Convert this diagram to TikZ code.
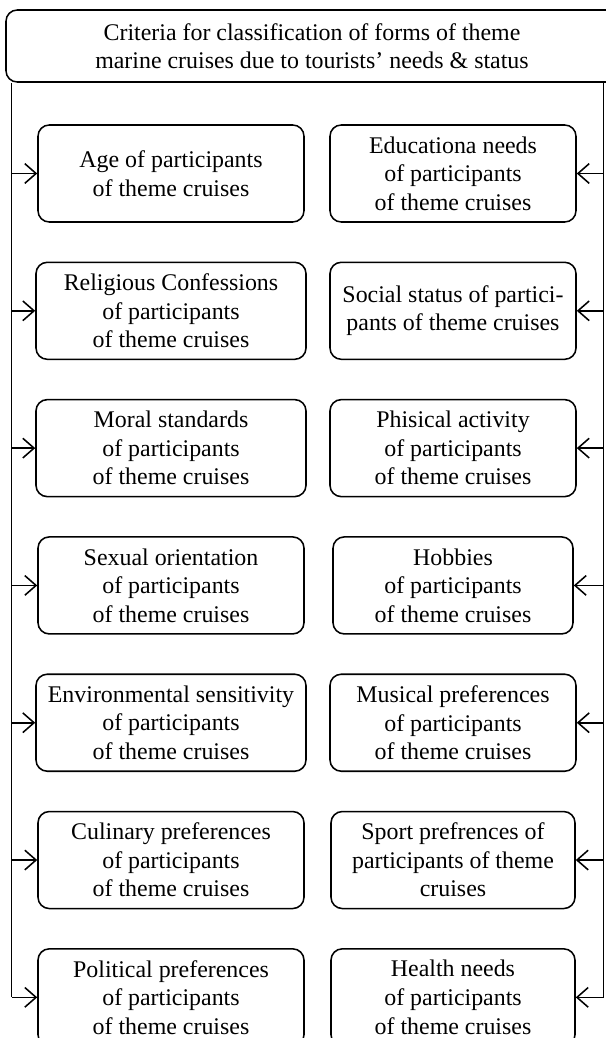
\documentclass[tikz,border=0pt]{standalone}
\usepackage{fontspec}
\setmainfont{Liberation Serif}
\usetikzlibrary{positioning, arrows.meta}

\begin{document}
\begin{tikzpicture}[node distance=0.969cm,
  top/.style={draw, rounded corners=8pt, minimum width=15.3cm, minimum height=1.8cm, align=center, line width=1.1pt},
  crit/.style={draw, rounded corners=8pt, minimum width=6.65cm, minimum height=2.425cm, inner sep=2pt, align=center, line width=1.1pt},
  rcrit/.style={crit, minimum width=6.15cm},
  arr/.style={-{Straight Barb[length=8pt,width=14pt]}, line width=1.1pt},
  bus/.style={line width=1.1pt},
  font=\fontsize{17}{20.3}\selectfont]
  \useasboundingbox (0,0) rectangle (15.125,-25.95);
  \node[top] (crit) at (7.8,-1.15) {Criteria for classification of forms of theme\\marine cruises due to tourists’ needs \& status};
  % left column
  \node[crit] (age) at (4.275,-4.3375) {Age of participants\\of theme cruises};
  \node[crit, minimum width=6.75cm, below=of age] (relig) {Religious Confessions\\of participants\\of theme cruises};
  \node[crit, minimum width=6.75cm, below=of relig] (moral) {Moral standards\\of participants\\of theme cruises};
  \node[crit, below=of moral] (sexual) {Sexual orientation\\of participants\\of theme cruises};
  \node[crit, minimum width=6.75cm, below=of sexual] (environ) {Environmental sensitivity\\of participants\\of theme cruises};
  \node[crit, below=of environ] (culin) {Culinary preferences\\of participants\\of theme cruises};
  \node[crit, below=of culin] (polit) {Political preferences\\of participants\\of theme cruises};
  % right column
  \node[rcrit] (edu) at (11.325,-4.3375) {Educationa needs\\of participants\\of theme cruises};
  \node[rcrit, below=of edu] (social) {Social status of partici-\\pants of theme cruises};
  \node[rcrit, below=of social] (phys) {Phisical activity\\of participants\\of theme cruises};
  \node[rcrit, minimum width=6.0cm, below=of phys] (hobby) {Hobbies\\of participants\\of theme cruises};
  \node[rcrit, below=of hobby] (music) {Musical preferences\\of participants\\of theme cruises};
  \node[rcrit, minimum width=6.1cm, below=of music] (sport) {Sport prefrences of\\participants of theme\\cruises};
  \node[rcrit, minimum width=6.1cm, below=of sport] (health) {Health needs\\of participants\\of theme cruises};
  % buses
  \coordinate (lbus) at (0.29,0);
  \coordinate (rbus) at (15.09,0);
  \draw[bus] (crit.south -| lbus) -- (polit.west -| lbus);
  \draw[bus] (crit.south -| rbus) -- (health.east -| rbus);
  \foreach \n in {age, relig, moral, sexual, environ, culin, polit}
    \draw[arr] (\n.west -| lbus) -- (\n.west);
  \foreach \n in {edu, social, phys, hobby, music, sport, health}
    \draw[arr] (\n.east -| rbus) -- (\n.east);
\end{tikzpicture}
\end{document}
